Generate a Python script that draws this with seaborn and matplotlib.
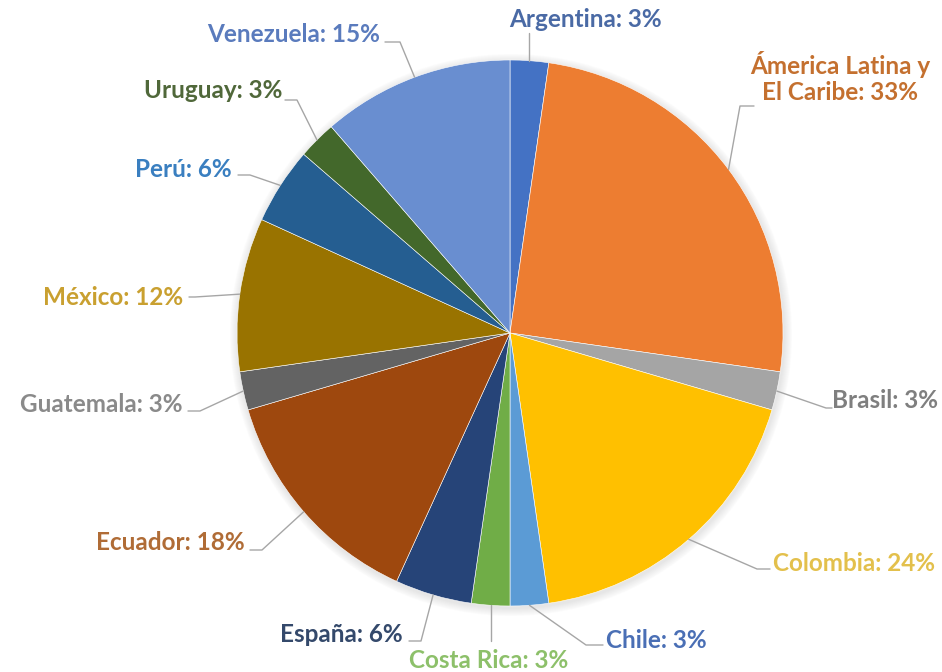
import matplotlib
matplotlib.use("Agg")
import matplotlib.pyplot as plt
import seaborn as sns
import numpy as np

# data
countries = ["Argentina", "Ámerica Latina y\nEl Caribe", "Brasil", "Colombia", "Chile",
             "Costa Rica", "España", "Ecuador", "Guatemala", "México", "Perú",
             "Uruguay", "Venezuela"]
percents = [3, 33, 3, 24, 3, 3, 6, 18, 3, 12, 6, 3, 15]

slice_colors = ["#4472C4", "#ED7D31", "#A5A5A5", "#FFC000", "#5B9BD5", "#70AD47",
                "#264478", "#9E480E", "#636363", "#997300", "#255E91", "#43682B",
                "#698ED0"]
label_colors = ["#4a6aa5", "#c4702f", "#7f7f7f", "#e3c04c", "#4a6fb5", "#8dc06a",
                "#34496b", "#b06c36", "#8a8a8a", "#c9a030", "#3a7fc0", "#50683a",
                "#5a7bbd"]

# label layout in pixel coords (y from the top): text x, text baseline, alignment,
# elbow x, elbow y, hook x
label_pos = [
    (585, 27, "center", None, 33, None),
    (840, 100, "center", 740, 106, 754),
    (832, 408, "left", 826, 408, 832),
    (773, 571, "left", 757, 569, 770),
    (606, 648, "left", 586, 645, 603),
    (489, 668, "center", None, 641, None),
    (403, 642, "right", 421, 641, 409),
    (245, 550, "right", 262, 550, 250),
    (182, 412, "right", 200, 411, 188),
    (183, 305, "right", 195, 297, 189),
    (232, 177, "right", 250, 175, 238),
    (282, 98, "right", 297, 100, 285),
    (380, 42, "right", 400, 42, 385),
]

sns.set_theme(style="white")
plt.rcParams["font.family"] = ["Lato", "DejaVu Sans"]

W, H = 942, 672
fig = plt.figure(figsize=(W / 100, H / 100), dpi=100)
ax = fig.add_axes([0, 0, 1, 1])

cx, cy, r = 510, 333, 273

# soft shadow around the pie
for k in range(8):
    ax.add_patch(plt.Circle((cx + 1, cy + 2), r + 8 - k, color="#b0b0b0", alpha=0.04, lw=0))

wedges, _ = ax.pie(percents, colors=slice_colors, startangle=90, counterclock=False,
                   center=(cx, cy), radius=r, frame=True,
                   wedgeprops=dict(edgecolor="white", linewidth=0.4))
# the y axis is flipped, so flip wedges back to clockwise order from the top
for w in wedges:
    t1, t2 = w.theta1, w.theta2
    w.set_theta1(-t2)
    w.set_theta2(-t1)
ax.set_xlim(0, W)
ax.set_ylim(H, 0)
ax.set_aspect("equal")
ax.axis("off")

for w, name, pct, col, (tx, ty, ha, ex, ey, hx) in zip(wedges, countries, percents,
                                                         label_colors, label_pos):
    mid = np.deg2rad((w.theta1 + w.theta2) / 2)
    sx = cx + r * np.cos(mid)
    sy = cy + r * np.sin(mid)
    if ex is None:
        ax.plot([sx, sx], [sy, ey], color="#a6a6a6", lw=1)
    else:
        ax.plot([sx, ex, hx], [sy, ey, ey], color="#a6a6a6", lw=1)
    ax.text(tx, ty, f"{name}: {pct}%", ha=ha, va="baseline", color=col,
            fontsize=17.5, fontweight="bold", linespacing=1.15)

fig.savefig("out.png", dpi=100)
